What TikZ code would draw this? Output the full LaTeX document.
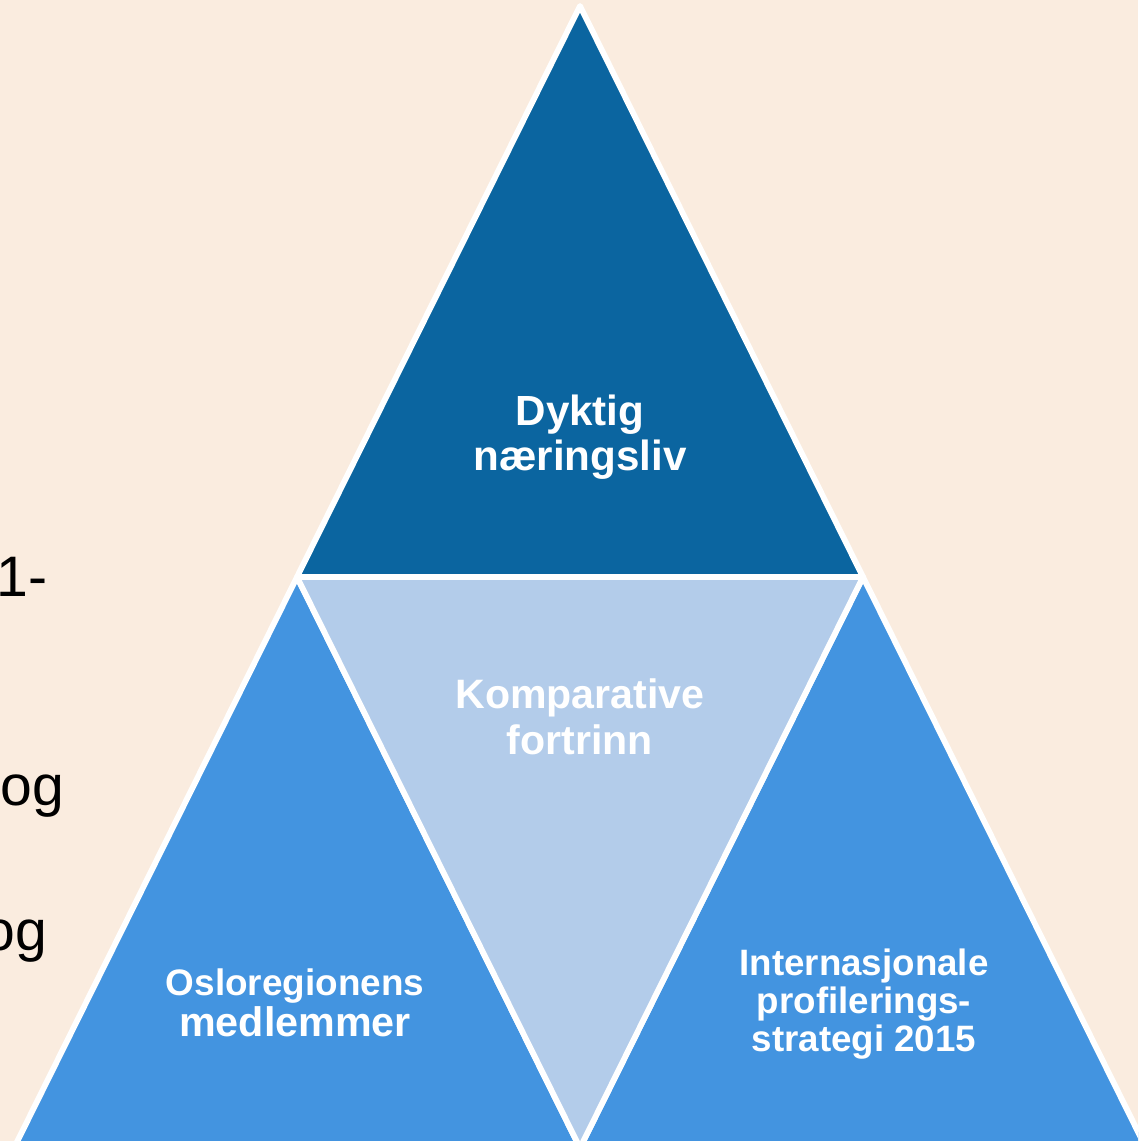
\documentclass[tikz,border=0pt]{standalone}
\usepackage{fontspec}
\setmainfont{Liberation Sans}
\definecolor{bgbeige}{RGB}{250,236,223}
\definecolor{topblue}{RGB}{11,101,160}
\definecolor{midblue}{RGB}{179,204,234}
\definecolor{sideblue}{RGB}{67,148,224}
\tikzset{
  piece/.style={draw=white,line width=3.3pt,line join=round},
  lbl/.style={text=white,align=center,font=\bfseries}
}
\begin{document}
\begin{tikzpicture}[x=0.02cm,y=-0.02cm]
  \useasboundingbox (0,0) rectangle (1138,1141);
  \fill[bgbeige] (0,0) rectangle (1138,1141);
  \clip (0,0) rectangle (1138,1141);

  \coordinate (apex) at (580,6);
  \coordinate (ml) at (297,577);
  \coordinate (mr) at (863,577);
  \coordinate (bl) at (14,1148);
  \coordinate (bm) at (580,1148);
  \coordinate (br) at (1146,1148);

  \filldraw[piece,fill=topblue] (apex) -- (mr) -- (ml) -- cycle;
  \filldraw[piece,fill=sideblue] (ml) -- (bm) -- (bl) -- cycle;
  \filldraw[piece,fill=sideblue] (mr) -- (br) -- (bm) -- cycle;
  \filldraw[piece,fill=midblue] (ml) -- (mr) -- (bm) -- cycle;

  \node[lbl,font=\bfseries\fontsize{24}{25.5}\selectfont] (top) at (580,437) {Dyktig\\næringsliv};
  \node[lbl,font=\bfseries\fontsize{23.4}{26.5}\selectfont] (mid) at (580,717) {Komparative\\fortrinn};
  \node[lbl,font=\bfseries\fontsize{21}{23}\selectfont] (left) at (295,1003) {Osloregionens\\{\fontsize{23.5}{23}\selectfont medlemmer}};
  \node[lbl,font=\bfseries\fontsize{20.9}{21.5}\selectfont] (right) at (864,1004) {Internasjonale\\profilerings-\\strategi 2015};

  \node[anchor=base west,inner sep=0pt,font=\fontsize{32.5}{32.5}\selectfont] (t1) at (-4,596) {1-};
  \node[anchor=base west,inner sep=0pt,font=\fontsize{32.5}{32.5}\selectfont] (t2) at (0,805) {og};
  \node[anchor=base west,inner sep=0pt,font=\fontsize{32.5}{32.5}\selectfont] (t3) at (-17,950) {og};
\end{tikzpicture}
\end{document}
